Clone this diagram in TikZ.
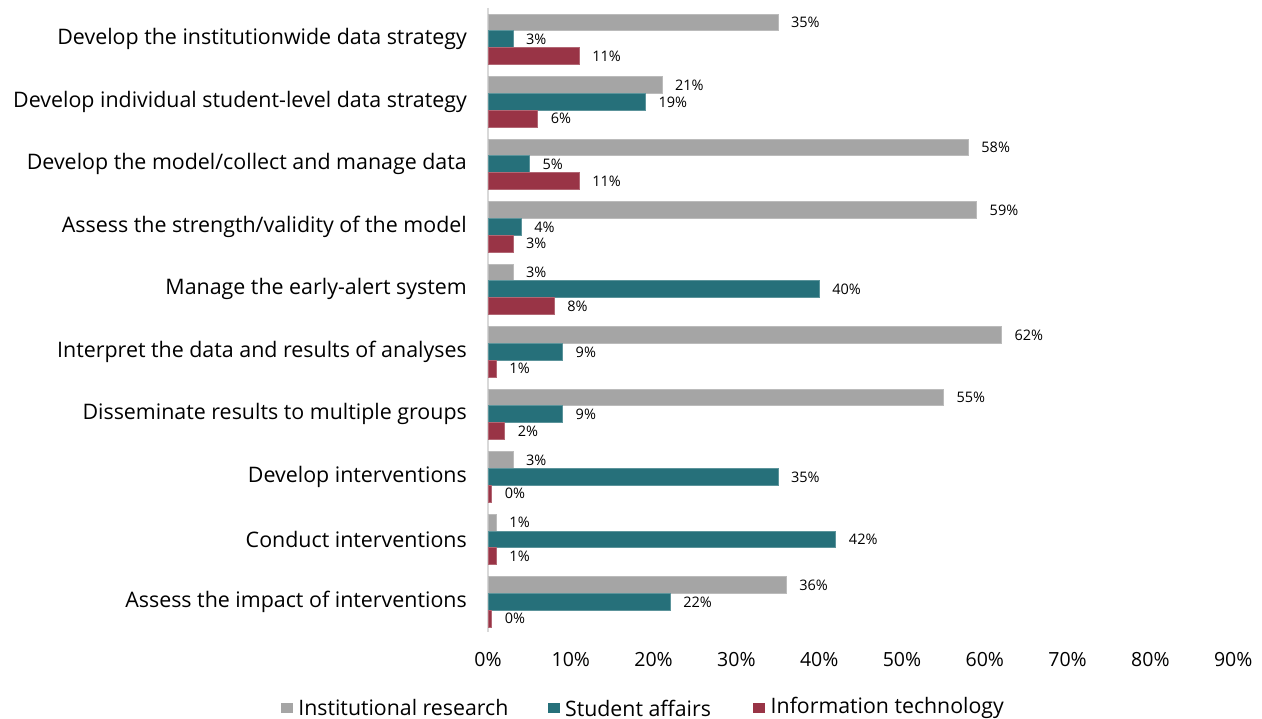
\documentclass[tikz,border=0pt]{standalone}
\usepackage{fontspec}
\setmainfont{Open Sans}
\usetikzlibrary{positioning}
\definecolor{irgray}{HTML}{A5A5A5}
\definecolor{sateal}{HTML}{26707A}
\definecolor{itred}{HTML}{993446}
\definecolor{axisgray}{HTML}{D9D9D9}

\begin{document}
\begin{tikzpicture}[x=1pt, y=-1pt,
  cat/.style={anchor=east, inner sep=0pt, font=\fontsize{21.4}{24}\selectfont},
  pct/.style={anchor=west, inner sep=0pt, font=\fontsize{14.5}{16}\selectfont},
  tick/.style={inner sep=0pt, font=\fontsize{19.5}{22}\selectfont},
  leg/.style={anchor=west, inner sep=0pt, font=\fontsize{21.3}{24}\selectfont},
  key/.style={fill=#1, minimum width=12pt, minimum height=10pt, inner sep=0pt},
  bar/.style={fill=#1, draw=#1!75!white, line width=0.6pt}]
  \useasboundingbox (0,0) rectangle (1262,719);
  % axis
  \draw[axisgray, line width=1.5pt] (488,8) coordinate (axtop) -- (488,632) coordinate (axbot);
  % bars
  \foreach \txt/\vir/\vsa/\vit [count=\i from 0] in {
    {Develop the institutionwide data strategy}/35/3/11,
    {Develop individual student-level data strategy}/21/19/6,
    {Develop the model/collect and manage data}/58/5/11,
    {Assess the strength/validity of the model}/59/4/3,
    {Manage the early-alert system}/3/40/8,
    {Interpret the data and results of analyses}/62/9/1,
    {Disseminate results to multiple groups}/55/9/2,
    {Develop interventions}/3/35/0,
    {Conduct interventions}/1/42/1,
    {Assess the impact of interventions}/36/22/0}{
    \pgfmathsetmacro{\yt}{14+62.5*\i}
    \node[cat] (cat\i) at (467,\yt+25.2) {\txt};
    \foreach \pc/\col [count=\j from 0] in {\vir/irgray,\vsa/sateal,\vit/itred}{
      \pgfmathsetmacro{\w}{max(\pc,0.45)*8.28}
      \pgfmathsetmacro{\yb}{\yt+16.8*\j}
      \draw[bar=\col] (488,\yb) rectangle ++(\w,16.8);
      \node[pct] (pct\i\j) at (488+\w+13,\yb+8.6) {\pc\%};
    }
  }
  % x ticks
  \foreach \k in {0,10,...,90}
    \node[tick] (tick\k) at (488+8.28*\k,660) {\k\%};
  % legend
  \node[key=irgray] (key1) at (287,708) {};
  \node[leg, right=5pt of key1] (leg1) {Institutional research};
  \node[key=sateal, right=39pt of leg1] (key2) {};
  \node[leg, right=5pt of key2] (leg2) {Student affairs};
  \node[key=itred, right=42pt of leg2] (key3) {};
  \node[leg, right=5pt of key3] (leg3) {Information technology};
\end{tikzpicture}
\end{document}
